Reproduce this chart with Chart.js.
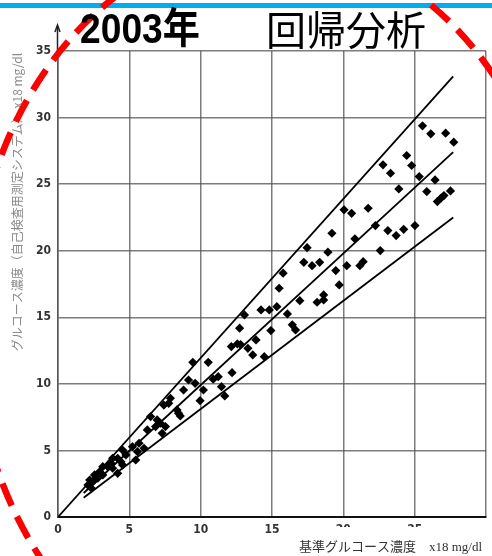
<!DOCTYPE html>
<html>
<head>
<meta charset="utf-8">
<script src="https://cdn.jsdelivr.net/npm/chart.js@4/dist/chart.umd.min.js"></script>
<style>
  html, body { margin: 0; padding: 0; background: #fff; }
  #wrap { width: 492px; height: 556px; position: relative; }
</style>
</head>
<body>
<div id="wrap"><canvas id="c" width="492" height="556"></canvas></div>
<script>
// ---- Data ----
const titleYear = "2003年";
const titleMain = "回帰分析";
const xAxisTitle = "基準グルコース濃度　x18 mg/dl";
const yAxisTitle = "グルコース濃度（自己検査用測定システム） x18 mg/dl";

const xTicks = [0, 5, 10, 15, 20, 25, 30];
const yTicks = [0, 5, 10, 15, 20, 25, 30, 35];

// reference glucose (x) and self-test meter glucose (y), x18 mg/dl
const refX = [
  25.55, 26.13, 27.17, 27.74, 24.44, 24.79, 22.78, 23.31, 25.32, 26.43,
  23.89, 25.85, 27.51, 27.05, 26.59, 26.85, 21.74, 20.05, 20.58, 19.20,
  17.46, 18.92, 20.81, 22.25, 23.12, 23.70, 24.23, 25.02, 22.59, 17.23,
  17.81, 18.34, 15.78, 19.47, 20.24, 21.16, 21.39, 19.71, 15.50, 16.95,
  18.16, 18.62, 18.62, 13.07, 14.23, 14.81, 15.34, 16.08, 12.73, 14.92,
  16.42, 16.65, 13.88, 12.15, 13.31, 13.65, 14.46, 9.45, 10.53, 12.57,
  12.20, 9.15, 9.61, 10.88, 11.23, 8.80, 10.19, 11.46, 11.69, 7.88,
  9.96, 8.34, 8.57, 7.42, 7.18, 7.76, 6.49, 6.95, 6.26, 6.84,
  7.53, 7.30, 5.68, 6.03, 5.22, 5.57, 4.53, 4.76, 4.18, 4.41,
  3.83, 3.72, 3.49, 3.83, 4.18, 3.14, 2.91, 3.14, 2.56, 2.79,
  2.22, 2.45, 2.10, 2.34, 4.53, 5.45, 12.80, 8.45
];
const meterY = [
  29.38, 28.78, 28.83, 28.15, 27.15, 26.40, 26.45, 25.82, 25.57, 25.32,
  24.64, 24.44, 24.49, 24.14, 23.69, 23.95, 23.19, 23.07, 22.81, 21.31,
  20.23, 19.89, 20.89, 21.89, 21.51, 21.14, 21.61, 21.89, 20.01, 19.13,
  18.88, 19.13, 18.31, 18.51, 18.88, 18.88, 19.18, 17.43, 17.18, 16.25,
  16.13, 16.68, 16.30, 15.18, 15.55, 15.55, 15.80, 15.25, 14.18, 14.00,
  14.43, 14.05, 13.30, 12.80, 12.67, 12.17, 12.04, 11.62, 11.62, 13.00,
  10.84, 10.29, 10.04, 10.35, 10.54, 9.54, 9.54, 9.79, 9.09, 8.92,
  8.74, 8.04, 7.59, 8.41, 7.04, 8.54, 7.54, 7.29, 6.54, 6.79,
  6.79, 6.29, 5.54, 5.16, 5.28, 4.91, 5.03, 4.66, 4.41, 4.15,
  4.41, 4.03, 3.78, 3.66, 3.28, 3.78, 3.40, 3.16, 3.16, 2.91,
  2.78, 2.65, 2.40, 2.16, 3.91, 4.28, 12.95, 7.79
];

// regression line and limit lines (endpoints)
const upperLineX = [0, 27.7];
const upperLineY = [0, 33.1];
const fitLineX = [1.8, 27.7];
const fitLineY = [1.8, 27.4];
const lowerLineX = [1.8, 27.7];
const lowerLineY = [1.45, 22.5];

// ---- build ----
const pts = refX.map((x, i) => ({ x: x, y: meterY[i] }));
const mkLine = (xs, ys) => xs.map((x, i) => ({ x: x, y: ys[i] }));

const tickFont = { family: '"Liberation Sans Narrow", "DejaVu Sans Condensed", "Liberation Sans", sans-serif', size: 12, weight: 'bold' };

const decor = {
  id: 'decor',
  beforeDraw(chart) {
    const ctx = chart.ctx;
    ctx.save();
    ctx.fillStyle = '#fff';
    ctx.fillRect(0, 0, chart.width, chart.height);
    ctx.restore();
  },
  afterDraw(chart) {
    const ctx = chart.ctx;
    const ca = chart.chartArea;
    ctx.save();
    // y axis arrow above the plot
    ctx.strokeStyle = '#222';
    ctx.lineWidth = 1.5;
    ctx.beginPath();
    ctx.moveTo(ca.left - 0.5, ca.top);
    ctx.lineTo(ca.left - 0.5, ca.top - 25);
    ctx.stroke();
    ctx.beginPath();
    ctx.moveTo(ca.left - 3, ca.top - 19);
    ctx.lineTo(ca.left - 0.5, ca.top - 26);
    ctx.lineTo(ca.left + 2, ca.top - 19);
    ctx.stroke();

    // white box covering right part of x tick labels, x axis title
    ctx.fillStyle = '#fff';
    ctx.fillRect(288, 527, 204, 29);
    ctx.fillStyle = '#333';
    ctx.font = '13px "Liberation Serif", "Noto Sans CJK JP", serif';
    ctx.textAlign = 'right';
    ctx.textBaseline = 'middle';
    ctx.fillText(xAxisTitle, 482, 548);

    // y axis title (rotated)
    ctx.save();
    ctx.translate(17, 202);
    ctx.rotate(-Math.PI / 2);
    ctx.fillStyle = '#8a8a8a';
    ctx.font = '12px "Noto Sans CJK JP", "Liberation Serif", sans-serif';
    ctx.textAlign = 'center';
    ctx.textBaseline = 'middle';
    ctx.fillText(yAxisTitle, 0, 0);
    ctx.restore();

    // top blue rule
    ctx.fillStyle = '#00aeef';
    ctx.fillRect(0, 3, chart.width, 5);

    // red dashed ellipse overlay
    ctx.strokeStyle = '#ff0000';
    ctx.lineWidth = 6.5;
    ctx.setLineDash([24, 12]);
    ctx.beginPath();
    ctx.ellipse(268, 318, 296, 375, 0, 0, Math.PI * 2);
    ctx.stroke();
    ctx.setLineDash([]);

    // titles
    ctx.fillStyle = '#000';
    ctx.textBaseline = 'alphabetic';
    ctx.textAlign = 'left';
    ctx.save();
    ctx.translate(80, 43);
    ctx.scale(0.93, 1.05);
    ctx.font = 'bold 40px "Liberation Sans", Arial, "Noto Sans CJK JP", sans-serif';
    ctx.fillText(titleYear, 0, 0);
    ctx.restore();
    ctx.font = '40px "Noto Sans CJK JP", sans-serif';
    ctx.fillText(titleMain, 266, 45);
    ctx.restore();
  }
};

new Chart(document.getElementById('c'), {
  type: 'scatter',
  data: {
    datasets: [
      {
        label: 'data',
        data: pts,
        pointStyle: 'rectRot',
        pointRadius: 4.6,
        pointBackgroundColor: '#000',
        pointBorderColor: '#000',
        pointBorderWidth: 0,
        order: 1
      },
      { label: 'upper', data: mkLine(upperLineX, upperLineY), showLine: true, borderColor: '#000', borderWidth: 1.8, pointRadius: 0, order: 2 },
      { label: 'fit', data: mkLine(fitLineX, fitLineY), showLine: true, borderColor: '#000', borderWidth: 1.8, pointRadius: 0, order: 2 },
      { label: 'lower', data: mkLine(lowerLineX, lowerLineY), showLine: true, borderColor: '#000', borderWidth: 1.8, pointRadius: 0, order: 2 }
    ]
  },
  options: {
    responsive: false,
    animation: false,
    devicePixelRatio: 1,
    layout: { padding: { top: 51, left: 0, right: 0, bottom: 0 } },
    plugins: { legend: { display: false }, tooltip: { enabled: false } },
    scales: {
      x: {
        type: 'linear', min: xTicks[0], max: xTicks[xTicks.length - 1],
        afterBuildTicks: (s) => { s.ticks = xTicks.map(v => ({ value: v })); },
        afterFit: (s) => { s.height = 39; },
        ticks: {
          font: tickFont, color: '#333', padding: 6, maxRotation: 0,
          callback: (v) => (v === xTicks[xTicks.length - 1] ? '' : String(v))
        },
        grid: { color: 'rgba(80,80,80,0.75)', lineWidth: 1.5, drawTicks: false },
        border: { color: '#111', width: 2 }
      },
      y: {
        type: 'linear', min: yTicks[0], max: yTicks[yTicks.length - 1],
        afterBuildTicks: (s) => { s.ticks = yTicks.map(v => ({ value: v })); },
        afterFit: (s) => { s.width = 58; },
        ticks: { font: tickFont, color: '#333', padding: 7 },
        grid: { color: 'rgba(80,80,80,0.75)', lineWidth: 1.5, drawTicks: false },
        border: { color: '#555', width: 1.5 }
      }
    }
  },
  plugins: [decor]
});
</script>
</body>
</html>
